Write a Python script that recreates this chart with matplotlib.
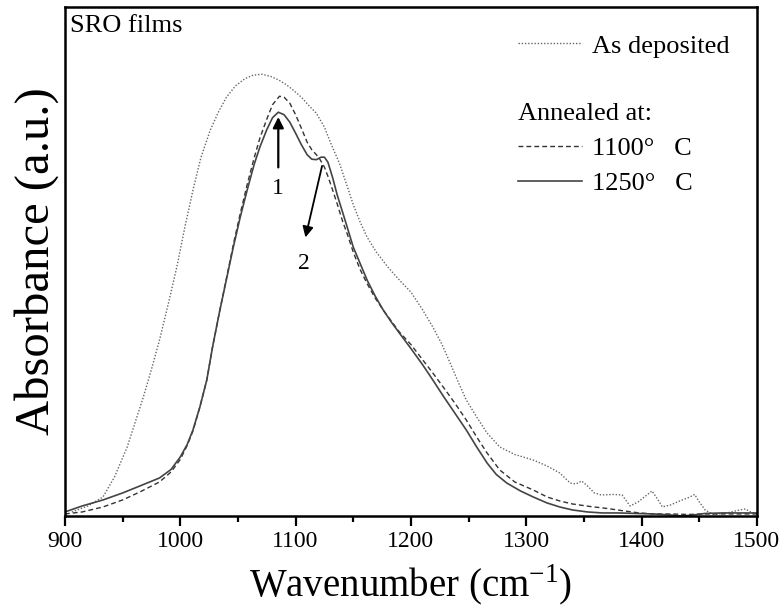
import matplotlib.pyplot as plt
from matplotlib.ticker import MultipleLocator

plt.rcParams['font.family'] = ['Liberation Serif', 'DejaVu Serif']
plt.rcParams['mathtext.fontset'] = 'custom'
plt.rcParams['mathtext.rm'] = 'Liberation Serif'

# as deposited (dotted)
wn_dep = [906, 920, 933, 943, 954, 961, 968, 975, 982, 990, 997, 1004, 1011, 1018, 1026, 1033,
          1040, 1048, 1056, 1063, 1071, 1078, 1085, 1092, 1098, 1105, 1112, 1118, 1125, 1131,
          1138, 1145, 1150, 1156, 1162, 1170, 1180, 1190, 1200, 1210, 1219, 1227, 1234, 1241,
          1248, 1257, 1266, 1277, 1290, 1306, 1318, 1329, 1338, 1343, 1348, 1354, 1359, 1365,
          1376, 1383, 1390, 1397, 1404, 1409, 1414, 1418, 1425, 1433, 1440, 1446, 1450, 1455,
          1462, 1474, 1485, 1490, 1496, 1500]
abs_dep = [0.0, 0.012, 0.03, 0.07, 0.13, 0.18, 0.23, 0.285, 0.344, 0.42, 0.49, 0.57, 0.644, 0.71,
           0.764, 0.80, 0.83, 0.853, 0.867, 0.874, 0.876, 0.872, 0.865, 0.855, 0.844, 0.83, 0.812,
           0.798, 0.77, 0.735, 0.698, 0.65, 0.615, 0.58, 0.55, 0.52, 0.49, 0.464, 0.44, 0.405,
           0.37, 0.335, 0.298, 0.26, 0.224, 0.19, 0.158, 0.13, 0.115, 0.104, 0.092, 0.078, 0.058,
           0.056, 0.062, 0.05, 0.038, 0.034, 0.035, 0.034, 0.012, 0.02, 0.033, 0.042, 0.025, 0.01,
           0.014, 0.022, 0.028, 0.035, 0.02, 0.004, -0.005, -0.002, 0.004, 0.006, -0.002, -0.003]

# annealed 1100 C (dashed)
wn_1100 = [900, 915, 933, 950, 965, 982, 992, 1000, 1006, 1011, 1017, 1023, 1028, 1034, 1040,
           1046, 1052, 1058, 1064, 1069, 1075, 1080, 1086, 1090, 1095, 1100, 1105, 1110, 1114,
           1118, 1121, 1125, 1128, 1132, 1136, 1141, 1145, 1150, 1156, 1162, 1169, 1176, 1183,
           1190, 1200, 1210, 1219, 1228, 1238, 1248, 1257, 1266, 1277, 1290, 1306, 1318, 1329,
           1340, 1355, 1370, 1385, 1398, 1410, 1425, 1440, 1455, 1470, 1485, 1500]
abs_1100 = [-0.004, 0.0, 0.01, 0.024, 0.04, 0.06, 0.08, 0.105, 0.133, 0.162, 0.21, 0.264, 0.33,
            0.40, 0.467, 0.535, 0.597, 0.655, 0.708, 0.748, 0.786, 0.815, 0.832, 0.83, 0.818,
            0.795, 0.768, 0.74, 0.725, 0.715, 0.706, 0.69, 0.672, 0.645, 0.617, 0.58, 0.555,
            0.52, 0.485, 0.457, 0.428, 0.404, 0.382, 0.36, 0.335, 0.305, 0.278, 0.25, 0.218,
            0.184, 0.15, 0.118, 0.084, 0.06, 0.044, 0.03, 0.022, 0.016, 0.011, 0.007, 0.002,
            -0.002, -0.004, -0.004, -0.005, -0.004, -0.004, -0.004, -0.004]

# annealed 1250 C (solid)
wn_1250 = [900, 915, 933, 950, 965, 982, 992, 1000, 1006, 1011, 1017, 1023, 1028, 1034, 1040,
           1046, 1052, 1058, 1064, 1069, 1075, 1080, 1085, 1090, 1095, 1100, 1105, 1110, 1114,
           1118, 1122, 1125, 1128, 1132, 1136, 1141, 1145, 1150, 1156, 1162, 1169, 1176, 1183,
           1190, 1200, 1210, 1219, 1228, 1238, 1248, 1257, 1266, 1274, 1283, 1295, 1306, 1318,
           1329, 1340, 1353, 1366, 1380, 1395, 1410, 1425, 1435, 1445, 1455, 1470, 1485, 1500]
abs_1250 = [0.0, 0.012, 0.024, 0.038, 0.052, 0.068, 0.085, 0.11, 0.135, 0.164, 0.21, 0.264, 0.33,
            0.40, 0.465, 0.53, 0.59, 0.644, 0.695, 0.73, 0.765, 0.789, 0.80, 0.795, 0.78, 0.758,
            0.735, 0.715, 0.706, 0.705, 0.71, 0.71, 0.70, 0.67, 0.635, 0.598, 0.568, 0.53, 0.497,
            0.464, 0.432, 0.404, 0.38, 0.358, 0.327, 0.295, 0.264, 0.232, 0.198, 0.164, 0.13,
            0.098, 0.075, 0.058, 0.042, 0.03, 0.018, 0.01, 0.004, 0.0, -0.002, -0.002, -0.003,
            -0.004, -0.006, -0.008, -0.006, -0.003, -0.002, -0.002, -0.002]

fig = plt.figure(figsize=(7.82, 6.07), dpi=100)
ax = fig.add_axes([0.083, 0.150, 0.885, 0.838])

l_dep, = ax.plot(wn_dep, abs_dep, color='#666666', lw=1.0, dashes=(1, 1.3))
l_1100, = ax.plot(wn_1100, abs_1100, color='#333333', lw=1.0, dashes=(3.5, 2.2))
l_1250, = ax.plot(wn_1250, abs_1250, color='#444444', lw=1.2)

ax.set_xlim(900, 1500)
ax.set_ylim(-0.008, 1.01)
ax.xaxis.set_major_locator(MultipleLocator(100))
ax.xaxis.set_minor_locator(MultipleLocator(50))
ax.set_yticks([])
ax.tick_params(axis='x', which='major', direction='out', length=7, width=1.6, labelsize=17, pad=4)
ax.tick_params(axis='x', which='minor', direction='out', length=4, width=1.6)
for s in ax.spines.values():
    s.set_linewidth(1.8)

ax.set_xlabel('Wavenumber (cm$^{-1}$)', fontsize=28, labelpad=8)
ax.set_ylabel('Absorbance (a.u.)', fontsize=35, labelpad=4)

ax.text(0.008, 0.985, 'SRO films', transform=ax.transAxes, fontsize=19, va='top', ha='left')

# peak markers
ax.annotate('', xy=(1085, 0.796), xytext=(1085, 0.684),
            arrowprops=dict(arrowstyle='-|>', color='black', lw=1.6, mutation_scale=16))
ax.text(1085, 0.648, '1', fontsize=17, ha='center', va='center')
ax.annotate('', xy=(1108, 0.544), xytext=(1123.5, 0.698),
            arrowprops=dict(arrowstyle='-|>', color='black', lw=1.3, mutation_scale=16))
ax.text(1107, 0.498, '2', fontsize=17, ha='center', va='center')

leg1 = ax.legend([l_dep], ['As deposited'], loc='upper left', bbox_to_anchor=(0.655, 0.947),
                 frameon=False, fontsize=19, handlelength=2.4, handletextpad=0.4,
                 borderpad=0, borderaxespad=0)
ax.add_artist(leg1)
ax.legend([l_1100, l_1250], ['1100\u00b0   C', '1250\u00b0   C'], title='Annealed at:',
          title_fontsize=19, alignment='left', loc='upper left', bbox_to_anchor=(0.655, 0.811),
          frameon=False, fontsize=19, handlelength=2.4, handletextpad=0.4, labelspacing=0.43,
          borderpad=0, borderaxespad=0)

fig.savefig('out.png', dpi=100)
